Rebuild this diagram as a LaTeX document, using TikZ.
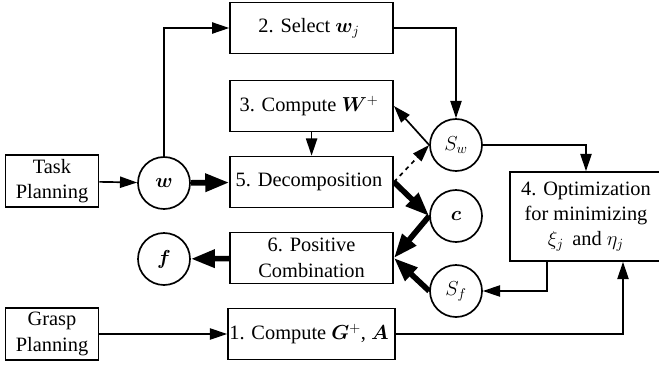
\documentclass[tikz,border=0pt]{standalone}
\usepackage{amsmath}
\usepackage{bm}
\usepackage{fontspec}
\setmainfont{Liberation Serif}
\usetikzlibrary{
    arrows.meta,
    positioning
}
\newcommand{\diagfont}{%
    \fontsize{14.5}{18}\selectfont%
}

\begin{document}
\begin{tikzpicture}[
    block/.style={
        rectangle,
        draw,
        line width=1.2pt,
        align=center,
        font=\diagfont,
        inner sep=1pt,
        minimum width=4.075cm,
        minimum height=1.275cm
    },
    planner/.style={
        block,
        minimum width=2.325cm,
        minimum height=1.3cm
    },
    signal/.style={
        circle,
        draw,
        line width=1.2pt,
        font=\diagfont,
        inner sep=0pt,
        minimum size=1.3cm
    },
    arrow/.style={
        -{Triangle[length=4.3mm,width=2.8mm]},
        line width=1.2pt
    },
    bigarrow/.style={
        -{Triangle[length=6mm,width=4.3mm]},
        line width=4pt
    }
]

\useasboundingbox (0,0) rectangle (16.475,-9.175);

% planners

\node[planner] (task) at (1.3,-4.525) {
    Task\\
    Planning
};

\node[planner] (grasp) at (1.3,-8.35) {
    Grasp\\
    Planning
};

% blocks

\node[block] (select) at (7.79,-0.7) {
    2. Select $\bm{w}_j$
};

\node[block] (pseudo) at (7.79,-2.65) {
    3. Compute $\bm{W}^{+}$
};

\node[block] (decomp) at (7.79,-4.55) {
    5. Decomposition
};

\node[block] (combine) at (7.79,-6.45) {
    6. Positive\\
    Combination
};

\node[block] (grasppinv) at (7.79,-8.35) {
    1. Compute $\bm{G}^{+}$, $\bm{A}$
};

\node[block,
    minimum width=3.8cm,
    minimum height=2.225cm
] (optim) at (14.65,-5.4125) {
    4. Optimization\\
    for minimizing\\
    $\xi_j$\, and $\eta_j$
};

% signals

\node[signal] (wrench) at (4.1,-4.575) {$\bm{w}$};

\node[signal] (force) at (4.1,-6.475) {$\bm{f}$};

\node[signal] (setw) at (11.4,-3.625) {$S_w$};

\node[signal] (coef) at (11.4,-5.4) {$\bm{c}$};

\node[signal] (setf) at (11.4,-7.275) {$S_f$};

% task planning path

\draw[arrow]
    (task) --
    (wrench);

\draw[bigarrow]
    (wrench) --
    (decomp);

\draw[arrow]
    (wrench.north)
    |- (select.west);

\draw[arrow]
    (select.east)
    -| (setw.north);

\draw[arrow]
    (setw.west) --
    (pseudo.east);

\draw[arrow]
    (pseudo) --
    (decomp);

\draw[arrow, dashed]
    (decomp.east) --
    (setw.west);

\draw[bigarrow]
    (decomp.east) --
    (coef.west);

% optimization

\draw[arrow]
    (setw.east)
    -| (optim.north);

\draw[arrow]
    ([xshift=0.95cm]optim.south west)
    |- (setf.east);

% positive combination

\draw[bigarrow]
    (coef.west) --
    (combine.east);

\draw[bigarrow]
    (setf.west) --
    (combine.east);

\draw[bigarrow]
    (combine) --
    (force);

% grasp planning path

\draw[arrow]
    (grasp) --
    (grasppinv);

\draw[arrow]
    (grasppinv.east)
    -| ([xshift=0.925cm]optim.south);

\end{tikzpicture}
\end{document}
